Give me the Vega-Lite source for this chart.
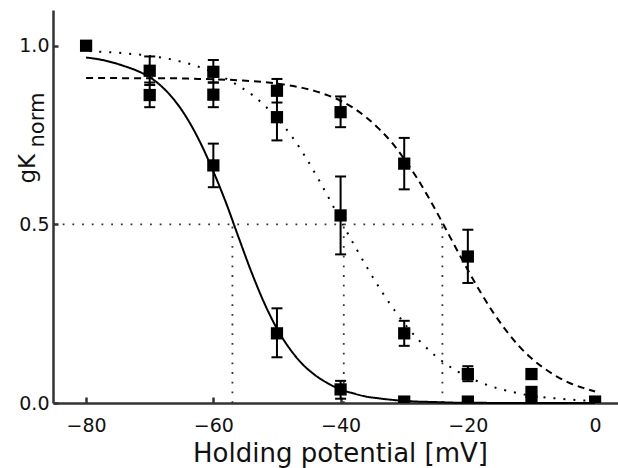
{
  "$schema": "https://vega.github.io/schema/vega-lite/v6.json",
  "width": 565,
  "height": 393,
  "autosize": {"type": "none"},
  "padding": {"left": 53, "top": 10, "right": 0, "bottom": 65},
  "background": "white",
  "config": {
    "view": {"stroke": null},
    "font": "DejaVu Sans"
  },
  "datasets": {
    "refV": [
      {"x": -57, "y": 0, "y2": 0.5},
      {"x": -39.5, "y": 0, "y2": 0.5},
      {"x": -24, "y": 0, "y2": 0.5}
    ],
    "refH": [
      {"x": -85.2, "x2": -24, "y": 0.5}
    ],
    "curves": [
      {"s": "A", "x": -80, "y": 0.967}, {"s": "A", "x": -78, "y": 0.962}, {"s": "A", "x": -76, "y": 0.954}, {"s": "A", "x": -74, "y": 0.943},
      {"s": "A", "x": -72, "y": 0.93}, {"s": "A", "x": -70, "y": 0.912}, {"s": "A", "x": -68, "y": 0.884}, {"s": "A", "x": -66, "y": 0.845},
      {"s": "A", "x": -64, "y": 0.793}, {"s": "A", "x": -62, "y": 0.727}, {"s": "A", "x": -60, "y": 0.648}, {"s": "A", "x": -58, "y": 0.56},
      {"s": "A", "x": -56, "y": 0.462}, {"s": "A", "x": -54, "y": 0.366}, {"s": "A", "x": -52, "y": 0.28}, {"s": "A", "x": -50, "y": 0.208},
      {"s": "A", "x": -48, "y": 0.152}, {"s": "A", "x": -46, "y": 0.109}, {"s": "A", "x": -44, "y": 0.078}, {"s": "A", "x": -42, "y": 0.055},
      {"s": "A", "x": -40, "y": 0.038}, {"s": "A", "x": -38, "y": 0.027}, {"s": "A", "x": -36, "y": 0.018}, {"s": "A", "x": -34, "y": 0.013},
      {"s": "A", "x": -32, "y": 0.009}, {"s": "A", "x": -30, "y": 0.006}, {"s": "A", "x": -28, "y": 0.004}, {"s": "A", "x": -26, "y": 0.003},
      {"s": "A", "x": -24, "y": 0.002}, {"s": "A", "x": -22, "y": 0.001}, {"s": "A", "x": -20, "y": 0.001}, {"s": "A", "x": -15, "y": 0.0},
      {"s": "A", "x": -10, "y": 0.0}, {"s": "A", "x": -5, "y": 0.0}, {"s": "A", "x": 0, "y": 0.0},
      {"s": "B", "x": -79.5, "y": 0.985}, {"s": "B", "x": -77.5, "y": 0.983}, {"s": "B", "x": -75.5, "y": 0.981}, {"s": "B", "x": -73.5, "y": 0.978},
      {"s": "B", "x": -71.5, "y": 0.975}, {"s": "B", "x": -69.5, "y": 0.97}, {"s": "B", "x": -67.5, "y": 0.965}, {"s": "B", "x": -65.5, "y": 0.957},
      {"s": "B", "x": -63.5, "y": 0.948}, {"s": "B", "x": -61.5, "y": 0.936}, {"s": "B", "x": -59.5, "y": 0.921}, {"s": "B", "x": -57.5, "y": 0.903},
      {"s": "B", "x": -55.5, "y": 0.882}, {"s": "B", "x": -53.5, "y": 0.857}, {"s": "B", "x": -51.5, "y": 0.825}, {"s": "B", "x": -49.5, "y": 0.787},
      {"s": "B", "x": -47.5, "y": 0.742}, {"s": "B", "x": -45.5, "y": 0.688}, {"s": "B", "x": -43.5, "y": 0.627}, {"s": "B", "x": -41.5, "y": 0.562},
      {"s": "B", "x": -39.5, "y": 0.495}, {"s": "B", "x": -37.5, "y": 0.431}, {"s": "B", "x": -35.5, "y": 0.369}, {"s": "B", "x": -33.5, "y": 0.311},
      {"s": "B", "x": -31.5, "y": 0.259}, {"s": "B", "x": -29.5, "y": 0.212}, {"s": "B", "x": -27.5, "y": 0.172}, {"s": "B", "x": -25.5, "y": 0.138},
      {"s": "B", "x": -23.5, "y": 0.11}, {"s": "B", "x": -21.5, "y": 0.087}, {"s": "B", "x": -19.5, "y": 0.069}, {"s": "B", "x": -17.5, "y": 0.054},
      {"s": "B", "x": -15.5, "y": 0.042}, {"s": "B", "x": -13.5, "y": 0.033}, {"s": "B", "x": -11.5, "y": 0.025}, {"s": "B", "x": -9.5, "y": 0.02},
      {"s": "B", "x": -7.5, "y": 0.015}, {"s": "B", "x": -5.5, "y": 0.012}, {"s": "B", "x": -3.5, "y": 0.009}, {"s": "B", "x": -1.5, "y": 0.007},
      {"s": "B", "x": 0.5, "y": 0.005},
      {"s": "C", "x": -80, "y": 0.91}, {"s": "C", "x": -78, "y": 0.91}, {"s": "C", "x": -76, "y": 0.91}, {"s": "C", "x": -74, "y": 0.909},
      {"s": "C", "x": -72, "y": 0.909}, {"s": "C", "x": -70, "y": 0.909}, {"s": "C", "x": -68, "y": 0.909}, {"s": "C", "x": -66, "y": 0.909},
      {"s": "C", "x": -64, "y": 0.908}, {"s": "C", "x": -62, "y": 0.907}, {"s": "C", "x": -60, "y": 0.906}, {"s": "C", "x": -58, "y": 0.905},
      {"s": "C", "x": -56, "y": 0.903}, {"s": "C", "x": -54, "y": 0.901}, {"s": "C", "x": -52, "y": 0.898}, {"s": "C", "x": -50, "y": 0.894},
      {"s": "C", "x": -48, "y": 0.889}, {"s": "C", "x": -46, "y": 0.882}, {"s": "C", "x": -44, "y": 0.873}, {"s": "C", "x": -42, "y": 0.861},
      {"s": "C", "x": -40, "y": 0.846}, {"s": "C", "x": -38, "y": 0.826}, {"s": "C", "x": -36, "y": 0.8}, {"s": "C", "x": -34, "y": 0.768},
      {"s": "C", "x": -32, "y": 0.73}, {"s": "C", "x": -30, "y": 0.683}, {"s": "C", "x": -28, "y": 0.63}, {"s": "C", "x": -26, "y": 0.57},
      {"s": "C", "x": -24, "y": 0.505}, {"s": "C", "x": -22, "y": 0.438}, {"s": "C", "x": -20, "y": 0.372}, {"s": "C", "x": -18, "y": 0.31},
      {"s": "C", "x": -16, "y": 0.253}, {"s": "C", "x": -14, "y": 0.203}, {"s": "C", "x": -12, "y": 0.16}, {"s": "C", "x": -10, "y": 0.125},
      {"s": "C", "x": -8, "y": 0.097}, {"s": "C", "x": -6, "y": 0.074}, {"s": "C", "x": -4, "y": 0.056}, {"s": "C", "x": -2, "y": 0.043},
      {"s": "C", "x": 0, "y": 0.032}
    ],
    "pts": [
      {"x": -80, "y": 1.0},
      {"x": -70, "y": 0.93, "lo": 0.89, "hi": 0.97},
      {"x": -70, "y": 0.862, "lo": 0.828, "hi": 0.897},
      {"x": -60, "y": 0.927, "lo": 0.897, "hi": 0.96},
      {"x": -60, "y": 0.863, "lo": 0.828, "hi": 0.897},
      {"x": -60, "y": 0.665, "lo": 0.604, "hi": 0.726},
      {"x": -50, "y": 0.874, "lo": 0.841, "hi": 0.907},
      {"x": -50, "y": 0.8, "lo": 0.735, "hi": 0.865},
      {"x": -50, "y": 0.195, "lo": 0.128, "hi": 0.265},
      {"x": -40, "y": 0.814, "lo": 0.772, "hi": 0.858},
      {"x": -40, "y": 0.525, "lo": 0.416, "hi": 0.634},
      {"x": -40, "y": 0.038, "lo": 0.012, "hi": 0.062},
      {"x": -30, "y": 0.67, "lo": 0.598, "hi": 0.742},
      {"x": -30, "y": 0.195, "lo": 0.16, "hi": 0.23},
      {"x": -30, "y": 0.004},
      {"x": -20, "y": 0.41, "lo": 0.336, "hi": 0.485},
      {"x": -20, "y": 0.081, "lo": 0.061, "hi": 0.103},
      {"x": -20, "y": 0.004},
      {"x": -10, "y": 0.081},
      {"x": -10, "y": 0.031},
      {"x": -10, "y": 0.004},
      {"x": 0, "y": 0.004, "lo": -0.01, "hi": 0.016}
    ]
  },
  "resolve": {"axis": {"y": "independent"}},
  "layer": [
    {
      "data": {"name": "refV"},
      "mark": {"type": "rule", "strokeDash": [1.8, 7.9], "strokeWidth": 1.8, "color": "#333"},
      "encoding": {
        "x": {"field": "x", "type": "quantitative", "title": "Holding potential [mV]",
          "scale": {"domain": [-85.2, 3.6], "nice": false, "zero": false},
          "axis": {"values": [-80, -60, -40, -20, 0], "labelFontSize": 19, "labelColor": "#111", "labelFont": "DejaVu Sans",
            "tickSize": -6, "tickWidth": 2.5, "tickColor": "#333", "domainColor": "#333", "domainWidth": 2.5, "labelPadding": 19,
            "grid": false, "titleFontSize": 26, "titleFont": "DejaVu Sans", "titleFontWeight": "normal", "titleColor": "#111",
            "titleX": 287, "titleY": 58, "titleBaseline": "alphabetic"}},
        "y": {"field": "y", "type": "quantitative", "scale": {"domain": [0, 1.1], "nice": false, "zero": false}, "axis": null},
        "y2": {"field": "y2"}
      }
    },
    {
      "data": {"name": "refH"},
      "mark": {"type": "rule", "strokeDash": [1.8, 7.9], "strokeWidth": 1.8, "color": "#333"},
      "encoding": {
        "x": {"field": "x", "type": "quantitative", "title": "Holding potential [mV]"},
        "x2": {"field": "x2"},
        "y": {"field": "y", "type": "quantitative", "axis": null}
      }
    },
    {
      "data": {"name": "curves"},
      "mark": {"type": "line", "strokeWidth": 2, "color": "black", "interpolate": "monotone"},
      "encoding": {
        "x": {"field": "x", "type": "quantitative", "title": "Holding potential [mV]"},
        "y": {"field": "y", "type": "quantitative", "axis": null},
        "strokeDash": {"field": "s", "type": "nominal", "legend": null,
          "scale": {"domain": ["A", "B", "C"], "range": [[1, 0], [2, 8], [7, 5]]}}
      }
    },
    {
      "data": {"name": "pts"},
      "transform": [{"filter": "isValid(datum.lo)"}],
      "mark": {"type": "rule", "strokeWidth": 2, "color": "black", "clip": true},
      "encoding": {
        "x": {"field": "x", "type": "quantitative", "title": "Holding potential [mV]"},
        "y": {"field": "lo", "type": "quantitative",
          "axis": {"orient": "left", "title": "norm", "titleFontSize": 21, "titleFont": "DejaVu Sans", "titleFontWeight": "normal", "titleColor": "#111",
            "titleAngle": -90, "titleAlign": "left", "titleBaseline": "alphabetic", "titleX": -10, "titleY": 137,
            "labels": false, "ticks": false, "domain": false, "grid": false}},
        "y2": {"field": "hi"}
      }
    },
    {
      "data": {"name": "pts"},
      "transform": [{"filter": "isValid(datum.lo)"}],
      "mark": {"type": "tick", "orient": "horizontal", "size": 11, "thickness": 2, "color": "black", "opacity": 1, "clip": true},
      "encoding": {
        "x": {"field": "x", "type": "quantitative", "title": "Holding potential [mV]"},
        "y": {"field": "lo", "type": "quantitative", "axis": null}
      }
    },
    {
      "data": {"name": "pts"},
      "transform": [{"filter": "isValid(datum.hi)"}],
      "mark": {"type": "tick", "orient": "horizontal", "size": 11, "thickness": 2, "color": "black", "opacity": 1, "clip": true},
      "encoding": {
        "x": {"field": "x", "type": "quantitative", "title": "Holding potential [mV]"},
        "y": {"field": "hi", "type": "quantitative", "axis": null}
      }
    },
    {
      "data": {"name": "pts"},
      "mark": {"type": "point", "shape": "square", "filled": true, "size": 150, "color": "black", "opacity": 1, "clip": true},
      "encoding": {
        "x": {"field": "x", "type": "quantitative", "title": "Holding potential [mV]"},
        "y": {"field": "y", "type": "quantitative",
          "axis": {"orient": "left", "values": [0, 0.5, 1], "format": ".1f", "labelFontSize": 19, "labelColor": "#111", "labelFont": "DejaVu Sans",
            "tickSize": -5, "tickWidth": 2.5, "tickColor": "#333", "domainColor": "#333", "domainWidth": 2.5, "labelPadding": 9, "grid": false,
            "title": "gK", "titleFontSize": 23, "titleFont": "DejaVu Sans", "titleFontWeight": "normal", "titleColor": "#111",
            "titleAngle": -90, "titleAlign": "left", "titleBaseline": "alphabetic", "titleX": -19, "titleY": 173}}
      }
    },
    {
      "mark": {"type": "rule", "strokeWidth": 2.5, "color": "#333"},
      "encoding": {
        "y": {"datum": 1.1, "type": "quantitative", "axis": null}
      }
    }
  ]
}
